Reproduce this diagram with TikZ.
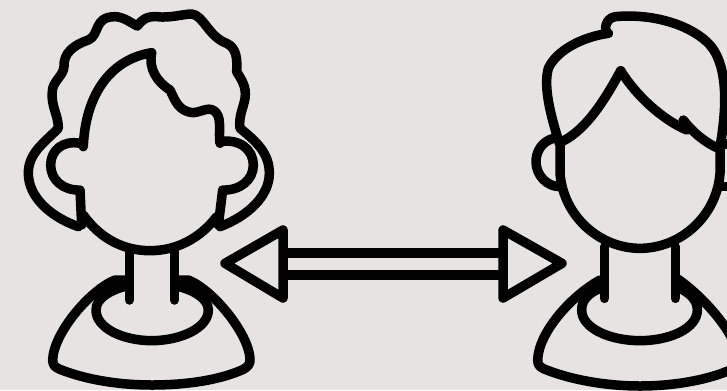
\documentclass[tikz,border=0pt]{standalone}
\usepackage{tikz}
\definecolor{wallgrey}{HTML}{E6E3E2}
\tikzset{outline/.style={line width=9.5pt,line cap=round,line join=round,black}}
\begin{document}
\begin{tikzpicture}[x=0.33333pt,y=-0.33333pt]
\fill[wallgrey] (0,0) rectangle (2181,1170);
\useasboundingbox (0,0) rectangle (2181,1170);
\clip (0,0) rectangle (2181,1170);
% left person
\draw[outline] (235,680) .. controls (150,650) and (85,590) .. (85,520) .. controls (85,460) and (130,430) .. (175,385) .. controls (175,340) and (150,320) .. (158,265) .. controls (165,240) and (190,225) .. (192,200) .. controls (190,160) and (220,135) .. (265,120) .. controls (300,105) and (280,50) .. (345,50) .. controls (370,50) and (395,70) .. (412,78) .. controls (425,60) and (440,48) .. (470,50) .. controls (510,55) and (550,42) .. (575,42) .. controls (610,45) and (625,110) .. (680,130) .. controls (710,145) and (712,175) .. (710,215) .. controls (725,240) and (740,260) .. (735,295) .. controls (730,325) and (715,350) .. (720,385) .. controls (770,425) and (808,460) .. (808,520) .. controls (808,590) and (740,650) .. (660,680);
\draw[outline] (250,440) .. controls (255,300) and (320,180) .. (455,158) .. controls (445,205) and (470,245) .. (510,270) .. controls (525,300) and (535,335) .. (580,338) .. controls (610,335) and (630,315) .. (650,340) .. controls (665,360) and (655,400) .. (660,430);
\draw[outline] (240,430) .. controls (190,420) and (152,450) .. (152,495) .. controls (152,540) and (190,572) .. (240,570) -- (245,675);
\draw[outline] (660,425) .. controls (720,415) and (760,450) .. (760,495) .. controls (760,540) and (720,572) .. (668,570) -- (655,675);
\draw[outline] (250,645) .. controls (300,715) and (370,752) .. (450,752) .. controls (530,752) and (600,715) .. (650,650);
\draw[outline] (388,750) -- (388,900);
\draw[outline] (523,750) -- (523,900);
\draw[outline] (385,840) -- (345,840) .. controls (270,870) and (160,1000) .. (158,1080) .. controls (158,1095) and (165,1102) .. (180,1108) .. controls (260,1140) and (360,1155) .. (455,1155) .. controls (560,1155) and (660,1140) .. (730,1108) .. controls (745,1100) and (752,1090) .. (750,1075) .. controls (745,1000) and (640,870) .. (565,840) -- (530,840);
\draw[outline] (380,858) .. controls (330,870) and (288,895) .. (288,930) .. controls (288,985) and (370,1022) .. (455,1022) .. controls (540,1022) and (625,985) .. (625,930) .. controls (625,895) and (580,870) .. (530,858);
% double arrow
\draw[outline] (849,690) -- (675,790) -- (849,894) -- cycle;
\draw[outline] (1509,690) -- (1686,790) -- (1509,894) -- cycle;
\draw[outline,line cap=butt] (849,759) -- (1509,759);
\draw[outline,line cap=butt] (849,825) -- (1509,825);
% right person
\begin{scope}[xshift=500pt]
\draw[outline] (178,430) .. controls (150,340) and (130,260) .. (145,205) .. controls (170,150) and (250,110) .. (325,100) .. controls (310,95) and (315,55) .. (345,50) .. controls (450,40) and (560,70) .. (620,125) .. controls (670,170) and (690,270) .. (660,440);
\draw[outline] (185,425) .. controls (260,390) and (320,290) .. (362,212) .. controls (410,290) and (490,360) .. (560,390);
\draw[outline] (550,360) .. controls (580,400) and (620,430) .. (655,445);
\draw[outline] (180,430) -- (180,520) .. controls (190,650) and (300,745) .. (420,745) .. controls (540,745) and (650,650) .. (660,520) -- (660,440);
\draw[outline] (160,415) .. controls (125,425) and (108,455) .. (108,485) .. controls (108,525) and (140,560) .. (180,560);
\draw[outline] (660,432) -- (690,432);
\draw[outline] (665,560) -- (690,560);
\draw[outline] (313,740) -- (313,895);
\draw[outline] (526,740) -- (526,895);
\draw[outline] (300,840) .. controls (210,890) and (115,1000) .. (113,1080) .. controls (113,1095) and (120,1102) .. (135,1108) .. controls (215,1140) and (320,1158) .. (420,1158) .. controls (520,1158) and (625,1140) .. (695,1108) .. controls (710,1100) and (717,1090) .. (715,1075) .. controls (710,1000) and (605,885) .. (530,835);
\draw[outline] (300,865) .. controls (265,880) and (245,900) .. (245,930) .. controls (245,985) and (330,1022) .. (420,1022) .. controls (510,1022) and (592,985) .. (592,930) .. controls (592,900) and (570,880) .. (535,862);
\end{scope}
\end{tikzpicture}
\end{document}
